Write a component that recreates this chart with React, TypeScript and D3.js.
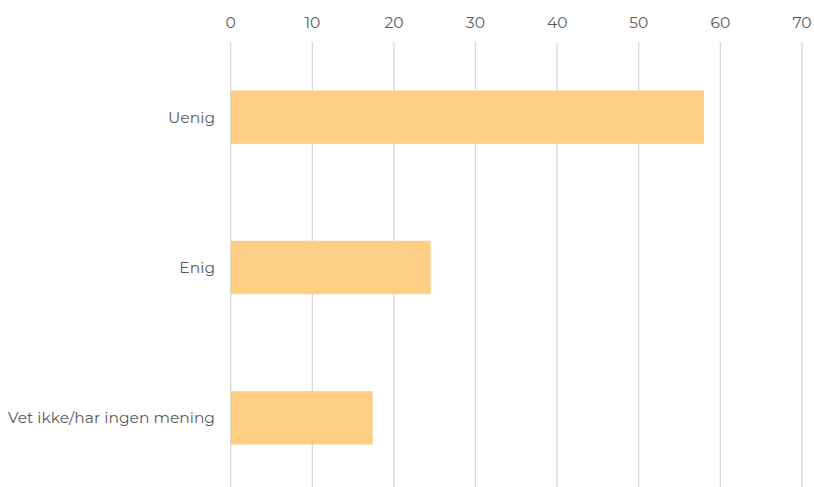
import React from "react";
import * as d3 from "d3";

const categories = ["Uenig", "Enig", "Vet ikke/har ingen mening"];
const values = [58.0, 24.5, 17.4];
const ticks = [0, 10, 20, 30, 40, 50, 60, 70];

const W = 814;
const H = 487;
const margin = { left: 230.7, right: 12, top: 42, bottom: -6 };

export default function App() {
  const x = d3.scaleLinear().domain([0, 70]).range([margin.left, 802]);
  const y = d3
    .scaleBand<string>()
    .domain(categories)
    .range([margin.top, H - margin.bottom])
    .padding(0);
  const barH = y.step() * 0.355;
  const font = "Montserrat, 'Open Sans', sans-serif";

  return (
    <svg
      width={W}
      height={H}
      style={{ position: "absolute", left: 0, top: 0, background: "#fff" }}
    >
      {ticks.map((t) => (
        <g key={t}>
          <line
            x1={x(t)}
            x2={x(t)}
            y1={margin.top}
            y2={H - margin.bottom}
            stroke="#d9d9d9"
            strokeWidth={1.3}
          />
          <text
            x={x(t)}
            y={22}
            textAnchor="middle"
            dominantBaseline="central"
            fontFamily={font}
            fontSize={15.5}
            fill="#595959"
          >
            {t}
          </text>
        </g>
      ))}
      {categories.map((c, i) => {
        const cy = (y(c) as number) + y.bandwidth() / 2;
        return (
          <g key={c}>
            <rect
              x={x(0)}
              y={cy - barH / 2}
              width={x(values[i]) - x(0)}
              height={barH}
              fill="#FFCE85"
            />
            <text
              x={215}
              y={cy}
              textAnchor="end"
              dominantBaseline="central"
              fontFamily={font}
              fontSize={15.5}
              fill="#595959"
            >
              {c}
            </text>
          </g>
        );
      })}
    </svg>
  );
}
